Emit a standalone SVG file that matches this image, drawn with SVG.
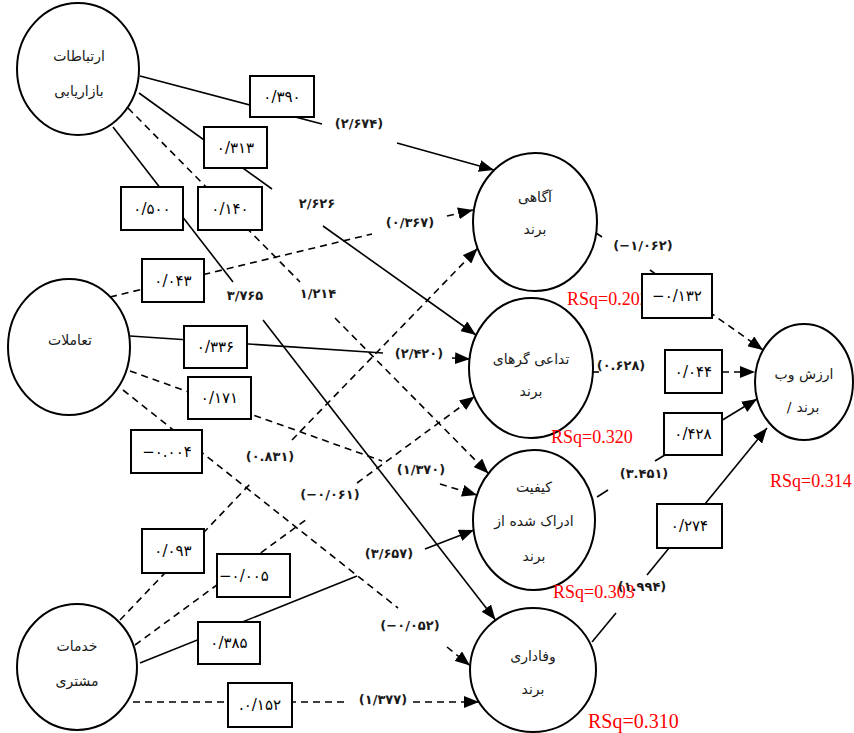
<svg xmlns="http://www.w3.org/2000/svg" width="854" height="733" viewBox="0 0 854 733">
<style>
.bg{fill:#fff}
.node ellipse{fill:#fff;stroke:#000;stroke-width:2}
.nt{font-family:"DejaVu Sans",sans-serif;font-size:14px;fill:#1a1a1a;text-anchor:middle}
.c{fill:none;stroke:#000;stroke-width:1.6}
.d{stroke-dasharray:7 5}
.box rect{fill:#fff;stroke:#000;stroke-width:2}
.bt{font-family:"DejaVu Sans",sans-serif;font-size:15px;fill:#000;text-anchor:middle}
.lt{font-family:"DejaVu Sans",sans-serif;font-size:13px;font-weight:bold;fill:#1a1a1a;text-anchor:middle}
.rsq{font-family:"Liberation Serif","Times New Roman",serif;font-size:18px;fill:#f00}
</style>
<defs>
<marker id="ah" markerUnits="userSpaceOnUse" markerWidth="15" markerHeight="12" refX="15" refY="6" orient="auto" viewBox="0 0 15 12"><path d="M0,0L15,6L0,12z" fill="#000"/></marker>
</defs>
<rect class="bg" width="854" height="733"/>

<g id="connectors">
<path class="c" d="M140,76L322,124"/>
<path class="c" d="M397,143L494,170" marker-end="url(#ah)"/>
<path class="c" d="M139,93L272,189"/>
<path class="c" d="M323,226L476,335" marker-end="url(#ah)"/>
<path class="c d" d="M128,108L300,282"/>
<path class="c d" d="M335,318L488.5,473.5" marker-end="url(#ah)"/>
<path class="c" d="M113,127L233,282"/>
<path class="c" d="M263,320L495.5,620" marker-end="url(#ah)"/>
<path class="c d" d="M110,297L372,234"/>
<path class="c d" d="M447,216L473,210" marker-end="url(#ah)"/>
<path class="c" d="M130,336L383,353"/>
<path class="c" d="M452,358L470,359" marker-end="url(#ah)"/>
<path class="c d" d="M130,371L382,461"/>
<path class="c d" d="M440,484L477,495" marker-end="url(#ah)"/>
<path class="c d" d="M123,390L398,608"/>
<path class="c d" d="M447,647L470,665.5" marker-end="url(#ah)"/>
<path class="c d" d="M120,620L250,484"/>
<path class="c d" d="M292,440L477.5,248.5" marker-end="url(#ah)"/>
<path class="c d" d="M135,645L307,519"/>
<path class="c d" d="M357,483L474.6,396.5" marker-end="url(#ah)"/>
<path class="c" d="M140,663L357,576"/>
<path class="c" d="M425,549L474,530" marker-end="url(#ah)"/>
<path class="c d" d="M133,702L347,702"/>
<path class="c d" d="M413,702L479,702" marker-end="url(#ah)"/>
<path class="c" d="M596,233L602,237"/>
<path class="c d" d="M650,270L763,350" marker-end="url(#ah)"/>
<path class="c" d="M593,372L599,372"/>
<path class="c d" d="M722,372L755,372" marker-end="url(#ah)"/>
<path class="c" d="M597,497L608,490"/>
<path class="c" d="M655,461L757,399" marker-end="url(#ah)"/>
<path class="c" d="M592,642L616,613"/>
<path class="c" d="M647,575L767,428" marker-end="url(#ah)"/>
</g>

<g id="n-marketing" class="node"><ellipse cx="78" cy="69" rx="61" ry="66"/><text class="nt" x="79" y="61">ارتباطات</text><text class="nt" x="79" y="96">بازاریابی</text></g>
<g id="n-interactions" class="node"><ellipse cx="69" cy="347" rx="61" ry="68"/><text class="nt" x="70" y="345">تعاملات</text></g>
<g id="n-service" class="node"><ellipse cx="77" cy="667" rx="60" ry="63"/><text class="nt" x="77" y="651">خدمات</text><text class="nt" x="77" y="686">مشتری</text></g>
<g id="n-awareness" class="node"><ellipse cx="535" cy="222" rx="62" ry="69"/><text class="nt" x="535" y="202">آگاهی</text><text class="nt" x="535" y="234">برند</text></g>
<g id="n-association" class="node"><ellipse cx="531" cy="368" rx="62" ry="70"/><text class="nt" x="531" y="364">تداعی گرهای</text><text class="nt" x="531" y="396">برند</text></g>
<g id="n-quality" class="node"><ellipse cx="534" cy="520" rx="61" ry="70"/><text class="nt" x="534" y="492">کیفیت</text><text class="nt" x="534" y="526">ادراک شده از</text><text class="nt" x="534" y="561">برند</text></g>
<g id="n-loyalty" class="node"><ellipse cx="533" cy="670" rx="63" ry="62"/><text class="nt" x="533" y="661">وفاداری</text><text class="nt" x="533" y="694">برند</text></g>
<g id="n-value" class="node"><ellipse cx="804" cy="382" rx="49" ry="58"/><text class="nt" x="804" y="379">ارزش وب</text><text class="nt" x="789" y="412">/</text><text class="nt" x="808" y="412">برند</text></g>

<g id="rsq">
<text class="rsq" x="567" y="305">RSq=0.202</text>
<text class="rsq" x="551" y="443">RSq=0.320</text>
<text class="rsq" x="553" y="598">RSq=0.303</text>
<text class="rsq" x="588" y="728" style="font-size:20px">RSq=0.310</text>
<text class="rsq" x="770" y="487">RSq=0.314</text>
</g>

<g id="edge-labels">
<text class="lt" x="359" y="128">(۲/۶۷۴)</text>
<text class="lt" x="317" y="208">۲/۶۲۶</text>
<text class="lt" x="410" y="227">(۰/۳۶۷)</text>
<text class="lt" x="318" y="298">۱/۲۱۴</text>
<text class="lt" x="245" y="300">۳/۷۶۵</text>
<text class="lt" x="419" y="358">(۲/۴۲۰)</text>
<text class="lt" x="270" y="461">(۰.۸۳۱)</text>
<text class="lt" x="421" y="474">(۱/۳۷۰)</text>
<text class="lt" x="330" y="499">(−۰/۰۶۱)</text>
<text class="lt" x="389" y="558">(۳/۶۵۷)</text>
<text class="lt" x="410" y="630">(−۰/۰۵۲)</text>
<text class="lt" x="383" y="704">(۱/۳۷۷)</text>
<text class="lt" x="643" y="250">(−۱/۰۶۲)</text>
<text class="lt" x="621" y="370">(۰.۶۲۸)</text>
<text class="lt" x="644" y="478">(۳.۴۵۱)</text>
<text class="lt" x="642" y="591">(۱.۹۹۴)</text>
</g>

<g id="boxes">
<g class="box"><rect x="250" y="76" width="64" height="41"/><text class="bt" x="282" y="102">۰/۳۹۰</text></g>
<g class="box"><rect x="204" y="127" width="63" height="41"/><text class="bt" x="235.5" y="153">۰/۳۱۳</text></g>
<g class="box"><rect x="121" y="187" width="62" height="43"/><text class="bt" x="152" y="214">۰/۵۰۰</text></g>
<g class="box"><rect x="198" y="187" width="64" height="43"/><text class="bt" x="230" y="214">۰/۱۴۰</text></g>
<g class="box"><rect x="142" y="259" width="62" height="43"/><text class="bt" x="173" y="286">۰/۰۴۳</text></g>
<g class="box"><rect x="184" y="326" width="63" height="42"/><text class="bt" x="215.5" y="352">۰/۳۳۶</text></g>
<g class="box"><rect x="188" y="377" width="63" height="42"/><text class="bt" x="219.5" y="403">۰/۱۷۱</text></g>
<g class="box"><rect x="131" y="430" width="71" height="43"/><text class="bt" x="167" y="457">−۰.۰۰۴</text></g>
<g class="box"><rect x="142" y="529" width="62" height="44"/><text class="bt" x="173" y="556">۰/۰۹۳</text></g>
<g class="box"><rect x="217" y="554" width="73" height="43"/><text class="bt" x="219" y="581" style="text-anchor:start">−۰/۰۰۵</text></g>
<g class="box"><rect x="198" y="622" width="62" height="42"/><text class="bt" x="229" y="648">۰/۳۸۵</text></g>
<g class="box"><rect x="228" y="683" width="64" height="44"/><text class="bt" x="260" y="710">.۰/۱۵۲</text></g>
<g class="box"><rect x="642" y="274" width="70" height="44"/><text class="bt" x="677" y="301">−۰/۱۳۲</text></g>
<g class="box"><rect x="665" y="350" width="57" height="43"/><text class="bt" x="693.5" y="377">۰/۰۴۴</text></g>
<g class="box"><rect x="664" y="413" width="58" height="42"/><text class="bt" x="693" y="439">۰/۴۲۸</text></g>
<g class="box"><rect x="657" y="504" width="65" height="44"/><text class="bt" x="689.5" y="531">۰/۲۷۴</text></g>
</g>
</svg>
